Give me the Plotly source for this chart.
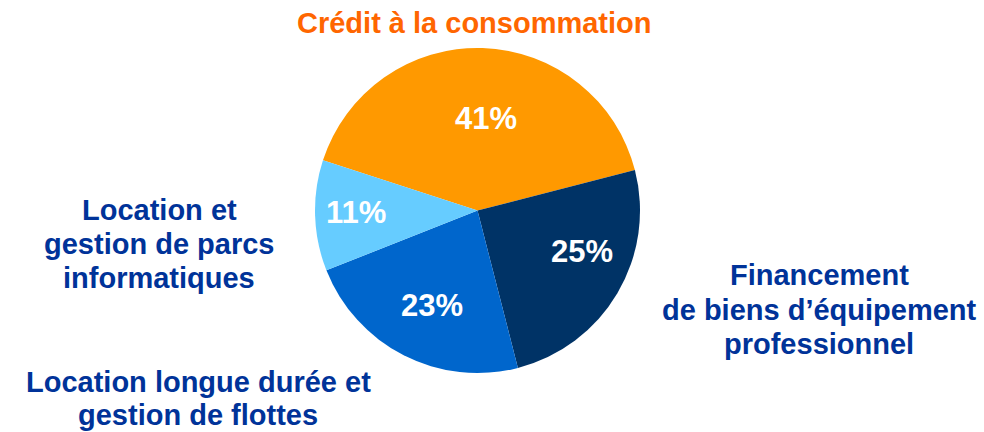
import math
import plotly.graph_objects as go

categories = [
    "Crédit à la consommation",
    "Financement de biens d'équipement professionnel",
    "Location longue durée et gestion de flottes",
    "Location et gestion de parcs informatiques",
]
values = [41, 25, 23, 11]
colors = ["#FF9900", "#003366", "#0066CC", "#66CCFF"]

# category label lines (outside the pie)
label_lines = [
    ["Crédit à la consommation"],
    ["Financement", "de biens d’équipement", "professionnel"],
    ["Location longue durée et", "gestion de flottes"],
    ["Location et", "gestion de parcs", "informatiques"],
]
label_colors = ["#FF6600", "#003399", "#003399", "#003399"]

# layout (pixels)
W, H = 984, 432
cx, cy, R = 477.5, 210.5, 162.5
ROTATION = -72
label_anchor_x = [474, 819, 198, 159]
label_first_y = [23, 275, 382, 210]
label_line_gap = [34, 34.5, 33, 34]
pct_offsets = [(-3.8, 0.566), (9.1, 0.69), (1.2, 0.646), (-0.8, 0.745)]  # (deg, r/R)

FONT = "Liberation Sans, Arial, sans-serif"

fig = go.Figure(go.Pie(
    labels=categories,
    values=values,
    sort=False,
    direction="clockwise",
    rotation=ROTATION,
    marker=dict(colors=colors, line=dict(width=0)),
    textinfo="none",
    domain=dict(x=[(cx - R) / W, (cx + R) / W], y=[1 - (cy + R) / H, 1 - (cy - R) / H]),
    showlegend=False,
    hoverinfo="label+percent",
))

# percentage labels placed from the data (slice mid-angles)
total = sum(values)
start = 90 - ROTATION  # math angle of first slice start
cum = 0
for v, (dang, rf) in zip(values, pct_offsets):
    mid = start - (cum + v / 2) / total * 360 + dang
    cum += v
    px = cx + rf * R * math.cos(math.radians(mid))
    py = cy - rf * R * math.sin(math.radians(mid))
    fig.add_annotation(
        x=px / W, y=1 - py / H, xref="paper", yref="paper",
        text=f"<b>{round(v / total * 100)}%</b>", showarrow=False,
        font=dict(family=FONT, size=31, color="white"),
        xanchor="center", yanchor="middle",
    )

for lines, col, x, y0, gap in zip(label_lines, label_colors, label_anchor_x, label_first_y, label_line_gap):
    for i, line in enumerate(lines):
        y = y0 + i * gap
        fig.add_annotation(
            x=x / W, y=1 - y / H, xref="paper", yref="paper",
            text=f"<b>{line}</b>", showarrow=False,
            font=dict(family=FONT, size=29, color=col),
            xanchor="center", yanchor="middle", align="center",
        )

fig.update_layout(
    width=W, height=H,
    margin=dict(l=0, r=0, t=0, b=0),
    paper_bgcolor="white", plot_bgcolor="white",
)

fig.write_html("out.html", config={"displayModeBar": False},
               post_script="document.body.style.margin='0';")
